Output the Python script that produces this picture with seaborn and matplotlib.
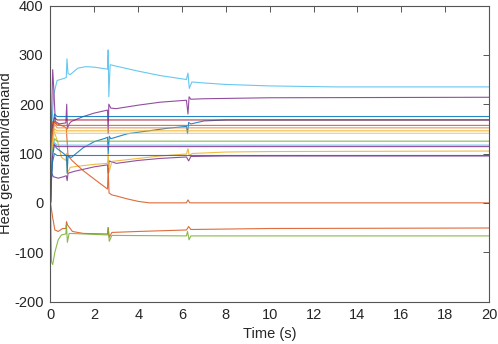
import matplotlib
matplotlib.use("Agg")
import matplotlib.pyplot as plt
import seaborn as sns
import pandas as pd

# MATLAB default colour order
BLUE = "#0072BD"
ORANGE = "#D95319"
YELLOW = "#EDB120"
PURPLE = "#7E2F8E"
GREEN = "#77AC30"
CYAN = "#4DBEEE"
DARKRED = "#A2142F"

# series: time (s) and value
cyan_t = [0, 0.05, 0.15, 0.3, 0.6, 0.72, 0.75, 0.8, 0.9, 1.25, 1.6, 2.0, 2.6, 2.63, 2.66, 2.72, 3, 4, 5, 6.2, 6.27, 6.33, 6.45, 7, 8, 10, 13, 20]
cyan_v = [0, 150, 220, 248, 252, 254, 292, 262, 260, 273, 276, 275, 271, 310, 215, 280, 277, 267, 258, 250, 263, 232, 245, 243, 240, 237, 235, 235]

purple_t = [0, 0.05, 0.1, 0.15, 0.22, 0.4, 0.7, 0.74, 0.77, 0.85, 0.95, 1.5, 2.0, 2.6, 2.63, 2.66, 2.75, 3.0, 4, 5, 6.2, 6.27, 6.32, 6.4, 7, 10, 20]
purple_v = [0, 180, 270, 230, 165, 160, 162, 200, 150, 160, 165, 175, 182, 188, 140, 200, 192, 191, 198, 204, 208, 180, 215, 210, 211, 213, 214]

purple2_t = [0, 0.05, 0.13, 0.35, 0.6, 0.72, 0.76, 0.8, 1.1, 1.5, 2.0, 2.6, 2.63, 2.67, 3.0, 4.0, 5.0, 6.2, 6.3, 6.4, 8, 10, 20]
purple2_v = [0, 60, 53, 50, 53, 55, 45, 60, 64, 68, 73, 77, 60, 85, 80, 86, 90, 93, 85, 94, 95, 95, 95]

yellow2_t = [0, 0.05, 0.2, 0.35, 0.5, 0.7, 0.73, 0.77, 0.9, 1.2, 2.0, 2.6, 2.63, 2.67, 2.8, 4, 5, 6.2, 6.27, 6.33, 6.45, 8, 10, 20]
yellow2_v = [0, 140, 141, 120, 92, 86, 100, 60, 72, 74, 78, 80, 100, 62, 84, 90, 95, 99, 110, 95, 100, 103, 104, 105]

orange_t = [0, 0.05, 0.1, 0.3, 0.6, 0.72, 0.75, 0.8, 1.0, 1.5, 2.0, 2.6, 2.63, 2.67, 2.8, 3.0, 3.5, 4.0, 4.5, 6.2, 6.27, 6.35, 20]
orange_v = [0, 120, 165, 160, 155, 152, 130, 95, 85, 65, 48, 28, 70, 20, 16, 14, 8, 3, 0, 0, 6, 0, 0]

orange2_t = [0, 0.1, 0.2, 0.35, 0.55, 0.7, 0.73, 0.78, 1.0, 1.5, 2.6, 2.63, 2.68, 2.8, 4, 6.2, 6.3, 6.4, 10, 20]
orange2_v = [0, -30, -55, -58, -52, -52, -38, -45, -58, -62, -63, -50, -70, -60, -58, -55, -48, -54, -52, -51]

green2_t = [0, 0.05, 0.1, 0.2, 0.35, 0.5, 0.7, 0.73, 0.77, 0.85, 1.5, 2.6, 2.63, 2.68, 2.8, 6.2, 6.25, 6.32, 6.4, 20]
green2_v = [0, -120, -125, -100, -75, -65, -63, -45, -80, -62, -63, -65, -50, -78, -66, -67, -58, -75, -67, -67]

blue_t = [0, 0.1, 0.3, 0.6, 0.73, 0.76, 0.8, 0.95, 1.5, 2.0, 2.5, 2.6, 2.63, 2.68, 2.75, 3.5, 5.3, 6.2, 6.25, 6.3, 6.4, 7, 8, 20]
blue_v = [0, 120, 110, 100, 95, 60, 95, 92, 112, 124, 131, 133, 100, 135, 130, 140, 151, 155, 140, 163, 160, 166, 168, 168]

# lines that settle quickly and stay flat
flat_t = [0, 0.08, 0.18, 0.3, 20]
darkred_v = [0, 150, 173, 168, 168]
blue175_v = [0, 140, 180, 175, 175]
orange157_v = [0, 145, 165, 157, 157]
orange152_v = [0, 130, 160, 152, 152]
yellow146_v = [0, 120, 150, 146, 146]
yellow141_v = [0, 110, 145, 141, 141]
green125_v = [0, 100, 130, 125, 125]
blue117_v = [0, 100, 122, 117, 117]
purple114_v = [0, 90, 118, 114, 114]
blue96_v = [0, 80, 100, 96, 96]

series = [
    ("cyan", cyan_t, cyan_v, CYAN),
    ("purple", purple_t, purple_v, PURPLE),
    ("purple2", purple2_t, purple2_v, PURPLE),
    ("yellow2", yellow2_t, yellow2_v, YELLOW),
    ("orange", orange_t, orange_v, ORANGE),
    ("orange2", orange2_t, orange2_v, ORANGE),
    ("green2", green2_t, green2_v, GREEN),
    ("blue", blue_t, blue_v, BLUE),
    ("darkred", flat_t, darkred_v, DARKRED),
    ("blue175", flat_t, blue175_v, BLUE),
    ("orange157", flat_t, orange157_v, ORANGE),
    ("orange152", flat_t, orange152_v, "#F08040"),
    ("yellow146", flat_t, yellow146_v, YELLOW),
    ("yellow141", flat_t, yellow141_v, "#F2C45A"),
    ("green125", flat_t, green125_v, GREEN),
    ("blue117", flat_t, blue117_v, CYAN),
    ("purple114", flat_t, purple114_v, PURPLE),
    ("blue96", flat_t, blue96_v, BLUE),
]

frames = []
for name, t, v, c in series:
    frames.append(pd.DataFrame({"t": t, "v": v, "series": name}))
df = pd.concat(frames, ignore_index=True)
palette = {name: c for name, t, v, c in series}

sns.set_style("white")
plt.rcParams["font.family"] = ["Liberation Sans", "DejaVu Sans"]
plt.rcParams["axes.unicode_minus"] = False

fig = plt.figure(figsize=(4.98, 3.44), dpi=100)
ax = fig.add_axes([0.1014, 0.1235, 0.8806, 0.8605])

sns.lineplot(data=df, x="t", y="v", hue="series", palette=palette,
             estimator=None, sort=False, legend=False, linewidth=0.8,
             alpha=0.85, ax=ax)

ax.set_xlim(0, 20)
ax.set_ylim(-200, 400)
ax.set_xticks(range(0, 21, 2))
ax.set_yticks(range(-200, 401, 100))
ax.set_xlabel("Time (s)", fontsize=10.5, labelpad=3)
ax.set_ylabel("Heat generation/demand", fontsize=10.5, labelpad=1)
ax.tick_params(direction="in", top=True, right=True, length=4, width=0.7,
               color="#555555", labelsize=10.5, pad=5)
for s in ax.spines.values():
    s.set_color("#555555")
    s.set_linewidth(0.8)
    s.set_visible(True)

fig.savefig("out.png", dpi=100)
plt.close(fig)
